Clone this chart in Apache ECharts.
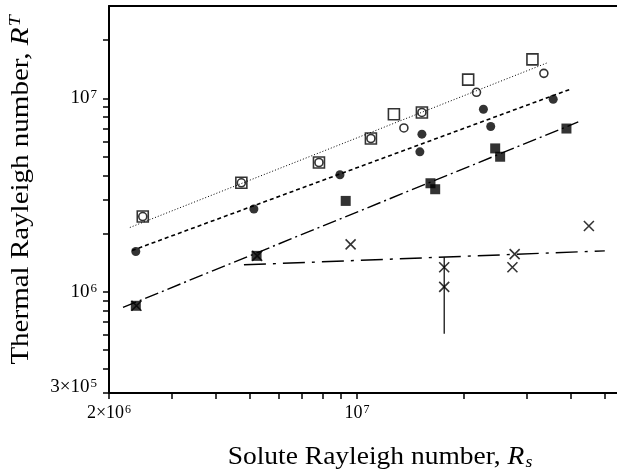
<!DOCTYPE html>
<html>
<head>
<meta charset="utf-8">
<script src="https://cdn.jsdelivr.net/npm/echarts@6/dist/echarts.min.js"></script>
<style>
  html, body { margin: 0; padding: 0; background: #fff; }
  #chart { width: 617px; height: 474px; }
</style>
</head>
<body>
<div id="chart"></div>
<script>
const myChart = echarts.init(document.getElementById('chart'));

// tick positions on the two log axes
const xTicks = [2e6, 3e6, 4e6, 5e6, 6e6, 7e6, 8e6, 9e6, 1e7, 2e7, 3e7, 4e7, 5e7];
const yTicks = [3e5, 4e5, 5e5, 6e5, 7e5, 8e5, 9e5, 1e6, 2e6, 3e6, 4e6, 5e6, 6e6, 7e6, 8e6, 9e6, 1e7, 2e7];
const xLabels = [2e6, 1e7];
const yLabels = [3e5, 1e6, 1e7];

// measured points [Rs, RT]
const openSquares = [[2.49e6, 2.45e6], [4.72e6, 3.66e6], [7.81e6, 4.66e6], [1.094e7, 6.2e6], [1.27e7, 8.28e6], [1.523e7, 8.45e6], [2.056e7, 1.249e7], [3.12e7, 1.59e7]];
const openCircles = [[2.49e6, 2.45e6], [4.72e6, 3.66e6], [7.81e6, 4.66e6], [1.094e7, 6.2e6], [1.355e7, 7.03e6], [1.523e7, 8.45e6], [2.17e7, 1.074e7], [3.36e7, 1.346e7]];
const filledCircles = [[2.38e6, 1.615e6], [5.12e6, 2.68e6], [8.95e6, 4.03e6], [1.503e7, 5.29e6], [1.523e7, 6.53e6], [2.27e7, 8.78e6], [2.38e7, 7.15e6], [3.57e7, 9.89e6]];
const filledSquares = [[2.38e6, 8.47e5], [5.21e6, 1.534e6], [9.29e6, 2.95e6], [1.61e7, 3.64e6], [1.66e7, 3.39e6], [2.45e7, 5.51e6], [2.53e7, 4.99e6], [3.89e7, 6.98e6]];
const crosses = [[2.39e6, 8.47e5], [5.23e6, 1.534e6], [9.59e6, 1.76e6], [1.76e7, 1.34e6], [1.76e7, 1.06e6], [2.74e7, 1.34e6], [2.78e7, 1.565e6], [4.5e7, 2.19e6]];

// fitted lines (end points)
const fitOpen = [[2.29e6, 2.15e6], [3.46e7, 1.534e7]];
const fitFilledCircle = [[2.32e6, 1.634e6], [3.96e7, 1.109e7]];
const fitFilledSquare = [[2.19e6, 8.31e5], [4.2e7, 7.55e6]];
const fitCross = [[4.8e6, 1.379e6], [4.99e7, 1.628e6]];
const errorBar = [[1.76e7, 1.51e6], [1.76e7, 6.08e5]];

const crossPath = 'path://M0,0L10,10M10,0L0,10';
const serif = 'Liberation Serif';

function powLabel(v) {
  if (v === 2e6) return '{b|2×10}{s|6}';
  if (v === 3e5) return '{b|3×10}{s|5}\n{g|}';
  const e = Math.round(Math.log10(v));
  return '{b|10}{s|' + e + '}';
}
function labelRich(size) {
  return {
    b: { fontFamily: serif, fontSize: size, color: '#000' },
    s: { fontFamily: serif, fontSize: Math.round(size * 0.68), color: '#000', verticalAlign: 'top', padding: [0, 0, 7, 1] },
    g: { height: 12 }
  };
}

function lineSeries(data, dash, width) {
  return {
    type: 'line',
    data: data,
    symbol: 'none',
    silent: true,
    lineStyle: { color: '#000', width: width, type: dash }
  };
}

function scatterSeries(data, symbol, size, filled) {
  return {
    type: 'scatter',
    data: data,
    symbol: symbol,
    symbolSize: size,
    itemStyle: filled
      ? { color: '#000' }
      : { color: 'none', borderColor: '#000', borderWidth: 1.6 }
  };
}

const titleRich = {
  i: { font: 'italic 25px "Liberation Serif"', fill: '#000' },
  sub: { font: 'italic 16px "Liberation Serif"', fill: '#000', padding: [11, 0, 0, 1] },
  sup: { font: 'italic 17px "Liberation Serif"', fill: '#000', padding: [0, 0, 11, 1] }
};

const option = {
  backgroundColor: '#fff',
  animation: false,
  grid: { left: 109, right: 0, top: 6, bottom: 81 },
  xAxis: [
    {
      type: 'log',
      min: 2e6,
      max: 5.4e7,
      axisLine: { lineStyle: { color: '#000', width: 2 } },
      axisTick: { customValues: xTicks, length: 6, inside: false, lineStyle: { color: '#000', width: 1.5 } },
      axisLabel: { customValues: xLabels, margin: 11, formatter: powLabel, rich: labelRich(18) },
      splitLine: { show: false }
    },
    {
      type: 'log',
      position: 'top',
      min: 2e6,
      max: 5.4e7,
      axisLine: { show: true, lineStyle: { color: '#000', width: 2 } },
      axisTick: { show: false },
      axisLabel: { show: false },
      splitLine: { show: false }
    }
  ],
  yAxis: {
    type: 'log',
    min: 3e5,
    max: 3e7,
    axisLine: { lineStyle: { color: '#000', width: 2 } },
    axisTick: { customValues: yTicks, length: 6, inside: false, lineStyle: { color: '#000', width: 1.5 } },
    axisLabel: { customValues: yLabels, margin: 12, formatter: powLabel, rich: labelRich(19) },
    splitLine: { show: false }
  },
  graphic: [
    {
      type: 'text',
      x: 380,
      y: 457,
      scaleX: 1.1,
      style: {
        text: 'Solute Rayleigh number, {i|R}{sub|s}',
        font: '25px "Liberation Serif"',
        fill: '#000',
        textAlign: 'center',
        textVerticalAlign: 'middle',
        rich: titleRich
      }
    },
    {
      type: 'text',
      x: 21,
      y: 190,
      rotation: Math.PI / 2,
      scaleX: 1.16,
      style: {
        text: 'Thermal Rayleigh number, {i|R}{sup|T}',
        font: '25px "Liberation Serif"',
        fill: '#000',
        textAlign: 'center',
        textVerticalAlign: 'middle',
        rich: titleRich
      }
    }
  ],
  series: [
    lineSeries(fitOpen, [1, 2], 1),
    lineSeries(fitFilledCircle, [4, 3], 1.6),
    lineSeries(fitFilledSquare, [14, 4, 2, 4], 1.4),
    lineSeries(fitCross, [22, 7, 3, 7], 1.4),
    lineSeries(errorBar, 'solid', 1.2),
    scatterSeries(openSquares, 'rect', 11, false),
    scatterSeries(openCircles, 'circle', 8, false),
    scatterSeries(filledCircles, 'circle', 9, true),
    scatterSeries(filledSquares, 'rect', 10, true),
    scatterSeries(crosses, crossPath, 10, false)
  ]
};

myChart.setOption(option);
</script>
</body>
</html>
